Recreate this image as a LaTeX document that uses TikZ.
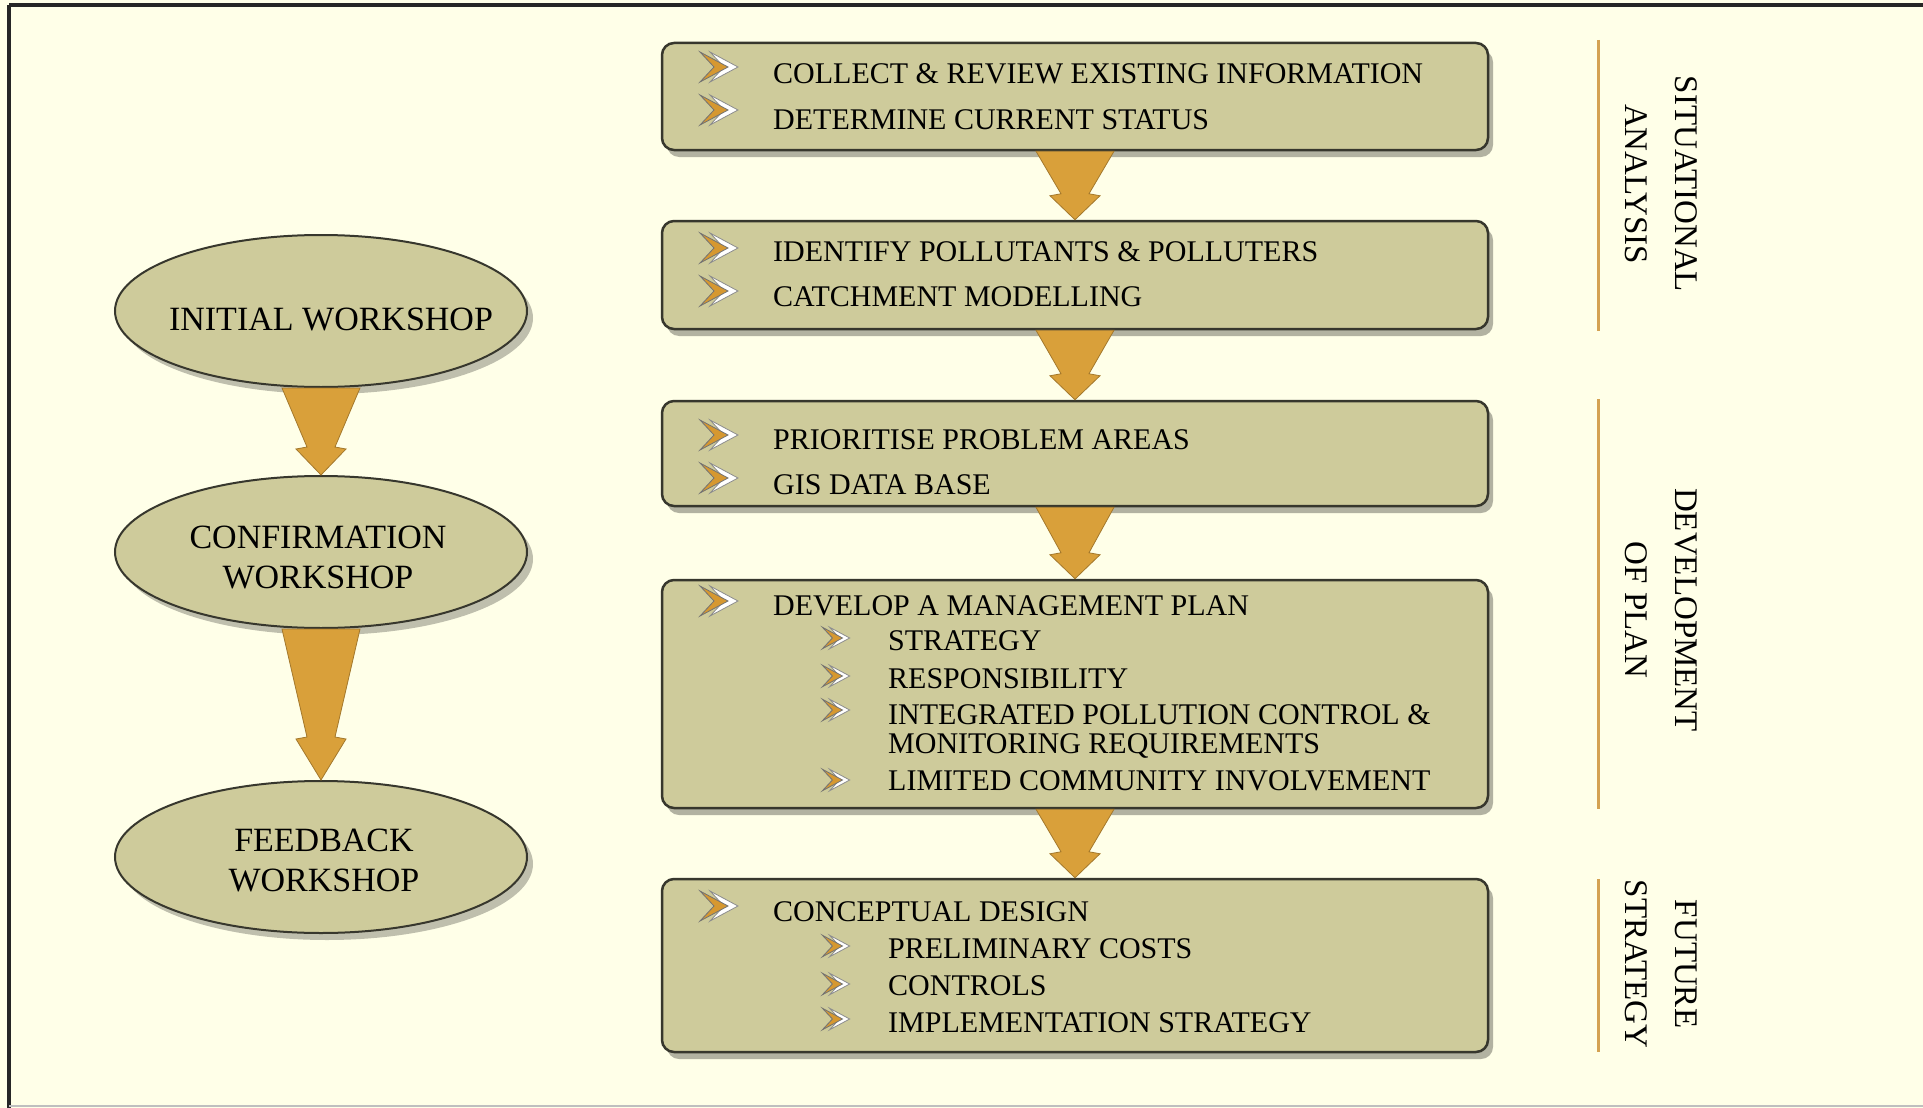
\documentclass[tikz,border=0pt]{standalone}
\usepackage{fontspec}
\setmainfont{Liberation Serif}
\usetikzlibrary{shapes.geometric,shadows,calc}
\definecolor{bgcol}{RGB}{255,255,232}
\definecolor{boxcol}{RGB}{206,203,155}
\definecolor{arrcol}{RGB}{217,160,58}
\definecolor{chevcol}{RGB}{214,152,48}
\definecolor{linecol}{RGB}{212,162,82}
\definecolor{edgecol}{RGB}{55,55,45}
\newcommand\fatarrow[3]{%
  \fill[arrcol, draw=arrcol!75!black, line width=0.8pt] let \p1=(#1), \p2=(#2) in
   ({\x1-39pt},{\y1}) -- ({\x1+39pt},{\y1}) -- ({\x2+14pt},{\y2+#3pt}) --
   ({\x2+25pt},{\y2+#3pt-2pt}) -- (\p2) -- ({\x2-25pt},{\y2+#3pt-2pt}) --
   ({\x2-14pt},{\y2+#3pt}) -- cycle;}
\begin{document}
\begin{tikzpicture}[x=1pt,y=-1pt,
  box/.style={draw=edgecol, line width=2.5pt, fill=boxcol, rounded corners=12pt,
    minimum width=826pt, inner sep=0pt,
    drop shadow={shadow xshift=5pt, shadow yshift=-7pt, opacity=0.3, fill=black}},
  wsh/.style={ellipse, draw=edgecol, line width=2pt, fill=boxcol,
    minimum width=412pt, minimum height=152pt, inner sep=0pt,
    drop shadow={shadow xshift=6pt, shadow yshift=-7pt, opacity=0.25, fill=black}},
  wtxt/.style={align=center, inner sep=0pt, font=\fontsize{34}{40}\selectfont},
  txt/.style={anchor=base west, inner sep=0pt, font=\fontsize{30}{36}\selectfont},
  phase/.style={rotate=-90, align=center, inner sep=0pt, font=\fontsize{33}{50}\selectfont},
  phaseline/.style={draw=linecol, line width=3pt},
  chevron/.pic={
    \fill[white, draw=black!45, line width=0.8pt] (-9,-15) -- (19,0) -- (-9,15) -- (5,0) -- cycle;
    \fill[chevcol, draw=black!55, line width=0.8pt] (-19,-15) -- (9,0) -- (-19,15) -- (-5,0) -- cycle;
  }
]
\useasboundingbox (0,0) rectangle (1923,1108);
\fill[bgcol] (0,0) rectangle (1923,1108);
\draw[black!85, line width=4pt] (9,5) -- (1923,5);
\draw[black!85, line width=4pt] (9,5) -- (9,1108);
\draw[black!25, line width=1.5pt] (9,1106) -- (1923,1106);

% boxes
\node[box, minimum height=107pt] (b1) at (1075,96.5) {};
\node[box, minimum height=108pt] (b2) at (1075,275) {};
\node[box, minimum height=105pt] (b3) at (1075,453.5) {};
\node[box, minimum height=228pt] (b4) at (1075,694) {};
\node[box, minimum height=173pt] (b5) at (1075,965.5) {};

% workshops
\node[wsh] (e1) at (321,311) {};
\node[wsh] (e2) at (321,552) {};
\node[wsh] (e3) at (321,857) {};
\node[wtxt] (e1t) at (331,319) {INITIAL WORKSHOP};
\node[wtxt] (e2t) at (318,557) {CONFIRMATION\\WORKSHOP};
\node[wtxt] (e3t) at (324,860) {FEEDBACK\\WORKSHOP};

% arrows
\fatarrow{b1.south}{b2.north}{26}
\fatarrow{b2.south}{b3.north}{26}
\fatarrow{b3.south}{b4.north}{26}
\fatarrow{b4.south}{b5.north}{26}
\fatarrow{e1.south}{e2.north}{28}
\fatarrow{e2.south}{e3.north}{43}

% bullets
\foreach \yy in {67,110,248,291,435,478,601,906} {\pic at (719,\yy) {chevron};}
\foreach \yy in {638,676,710,780,946,984,1019} {\pic[scale=0.72] at (836,\yy) {chevron};}

% texts
\node[txt] (t11) at (773,84) {COLLECT \& REVIEW EXISTING INFORMATION};
\node[txt] (t12) at (773,129) {DETERMINE CURRENT STATUS};
\node[txt] (t21) at (773,261) {IDENTIFY POLLUTANTS \& POLLUTERS};
\node[txt] (t22) at (773,306) {CATCHMENT MODELLING};
\node[txt] (t31) at (773,449) {PRIORITISE PROBLEM AREAS};
\node[txt] (t32) at (773,494) {GIS DATA BASE};
\node[txt] (t41) at (773,615) {DEVELOP A MANAGEMENT PLAN};
\node[txt] (t42) at (888,650) {STRATEGY};
\node[txt] (t43) at (888,688) {RESPONSIBILITY};
\node[txt] (t44) at (888,724) {INTEGRATED POLLUTION CONTROL \&};
\node[txt] (t45) at (888,753) {MONITORING REQUIREMENTS};
\node[txt] (t46) at (888,790) {LIMITED COMMUNITY INVOLVEMENT};
\node[txt] (t51) at (773,921) {CONCEPTUAL DESIGN};
\node[txt] (t52) at (888,958) {PRELIMINARY COSTS};
\node[txt] (t53) at (888,995) {CONTROLS};
\node[txt] (t54) at (888,1032) {IMPLEMENTATION STRATEGY};

% phases
\draw[phaseline] (1598,40) -- (1598,331);
\draw[phaseline] (1598,399) -- (1598,809);
\draw[phaseline] (1598,879) -- (1598,1052);
\node[phase] (p1) at (1661,184) {SITUATIONAL\\ANALYSIS};
\node[phase] (p2) at (1661,610) {DEVELOPMENT\\OF PLAN};
\node[phase] (p3) at (1661,964) {FUTURE\\STRATEGY};
\end{tikzpicture}
\end{document}
